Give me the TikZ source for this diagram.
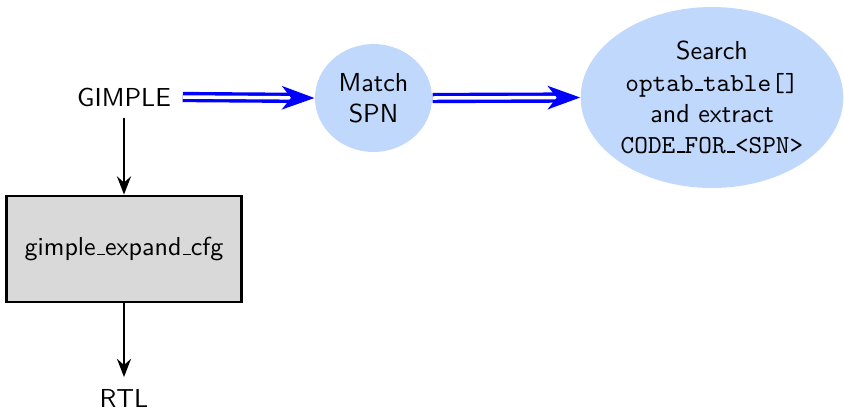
\documentclass[tikz,border=0pt]{standalone}
\usetikzlibrary{arrows.meta,shapes.geometric}
\definecolor{nodeblue}{RGB}{192,216,252}
% short low bar used as underscore in identifiers
\newcommand{\lowbar}[1][0.4pt]{\leavevmode\kern.06em\vbox{\hrule width.3em height #1}}
\begin{document}
\begin{tikzpicture}[x=0.3846pt,y=0.3846pt,font=\sffamily,
  label/.style={inner sep=4.4pt},
  stage/.style={draw,line width=0.8pt,fill=gray!30,minimum width=90.4pt,minimum height=41.1pt,inner sep=0pt},
  bubble/.style={ellipse,fill=nodeblue,align=center,inner sep=0pt},
  flow/.style={draw,line width=0.8pt,-{Stealth[length=7pt,width=5.4pt,inset=2.4pt]}},
  pass/.style={draw=blue,double=white,double distance=1.35pt,line width=1.3pt,
    -{Stealth[length=12.5pt,width=9pt,inset=3.5pt]}}]
\useasboundingbox (0,0) rectangle (844,-410);

\node[label] (gimple) at (124,-97) {GIMPLE};
\node[bubble,minimum width=45pt,minimum height=41.5pt] (match) at (373.5,-98) {Match\\SPN};
\node[bubble,minimum width=101pt,minimum height=69.6pt] (search) at (712,-97.5)
  {Search\\\texttt{optab\lowbar[0.8pt]table[]}\\and extract\\\texttt{CODE\lowbar[0.8pt]FOR\lowbar[0.8pt]<SPN>}};
\node[stage] (expand) at (124,-249) {gimple\lowbar expand\lowbar cfg};
\node[label] (rtl) at (124,-398) {RTL};

\draw[pass] (gimple.east) -- (match.west);
\draw[pass] (match.east) -- (search.west);
\draw[flow] (gimple.south) -- (expand.north);
\draw[flow] (expand.south) -- (rtl.north);
\end{tikzpicture}
\end{document}
